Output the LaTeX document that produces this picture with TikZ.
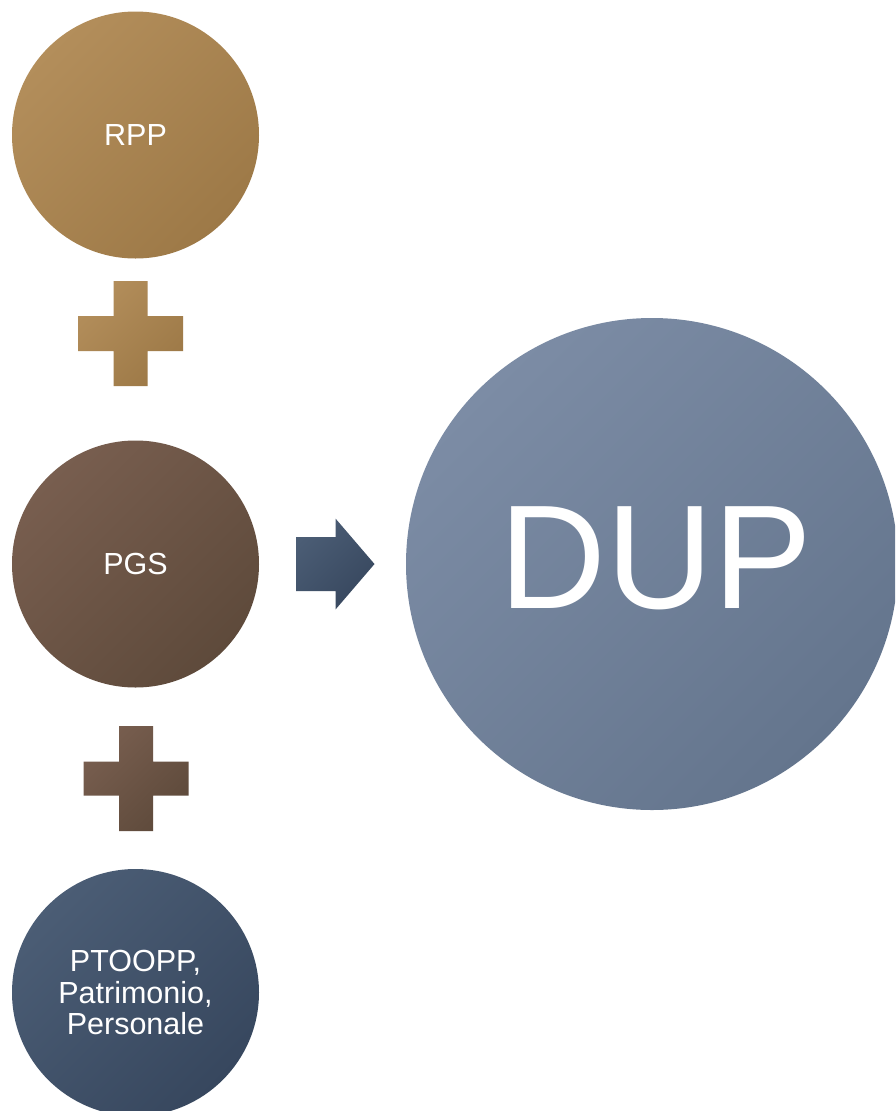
\documentclass[tikz,border=0pt]{standalone}
\usepackage{fontspec}
\setmainfont{Liberation Sans}
\definecolor{goldA}{HTML}{B38E5B}
\definecolor{goldB}{HTML}{9D7947}
\definecolor{brownA}{HTML}{785E4F}
\definecolor{brownB}{HTML}{5E4A3B}
\definecolor{navyA}{HTML}{4B5D75}
\definecolor{navyB}{HTML}{37475E}
\definecolor{slateA}{HTML}{7C8CA5}
\definecolor{slateB}{HTML}{64758D}
\tikzset{
  ball/.style={circle, inner sep=0pt, minimum size=247pt, text=white,
    align=center, font=\fontsize{30.5}{31.5}\selectfont},
  shadegold/.style={top color=goldA, bottom color=goldB, shading angle=45},
  shadebrown/.style={top color=brownA, bottom color=brownB, shading angle=45},
  shadenavy/.style={top color=navyA, bottom color=navyB, shading angle=45},
  shadeslate/.style={top color=slateA, bottom color=slateB, shading angle=45},
}
\begin{document}
\begin{tikzpicture}[x=1pt,y=-1pt]
\clip (0,0) rectangle (895,1111);
\fill[white] (0,0) rectangle (895,1111);
% circles
\node[ball, shadegold] (rpp) at (135.5,135) {RPP};
\node[ball, shadebrown] (pgs) at (135.5,564) {PGS};
\node[ball, shadenavy] (pto) at (135.5,992.5) {PTOOPP,\\Patrimonio,\\Personale};
\node[ball, shadeslate, minimum size=492pt] (dup) at (652,564) {};
\node[text=white, inner sep=0pt, font=\fontsize{148}{148}\selectfont] (duptext) at ([xshift=4pt,yshift=6pt]dup.center) {DUP};
% plus signs
\coordinate (p1) at (130.5,333.5);
\coordinate (p2) at (136,778.5);
\shade[shadegold] (p1) ++(-17,-52.5) -- ++(34,0) -- ++(0,35) -- ++(35.5,0) -- ++(0,35) -- ++(-35.5,0) -- ++(0,35) -- ++(-34,0) -- ++(0,-35) -- ++(-35.5,0) -- ++(0,-35) -- ++(35.5,0) -- cycle;
\shade[shadebrown] (p2) ++(-17,-52.5) -- ++(34,0) -- ++(0,35.5) -- ++(35.5,0) -- ++(0,34) -- ++(-35.5,0) -- ++(0,35.5) -- ++(-34,0) -- ++(0,-35.5) -- ++(-35.5,0) -- ++(0,-34) -- ++(35.5,0) -- cycle;
% arrow
\coordinate (arr) at (296,564);
\shade[shadenavy] (arr) ++(0,-27) -- ++(39.5,0) -- ++(0,-18.5) -- ++(39,45.5) -- ++(-39,45.5) -- ++(0,-18.5) -- ++(-39.5,0) -- cycle;
\end{tikzpicture}
\end{document}
